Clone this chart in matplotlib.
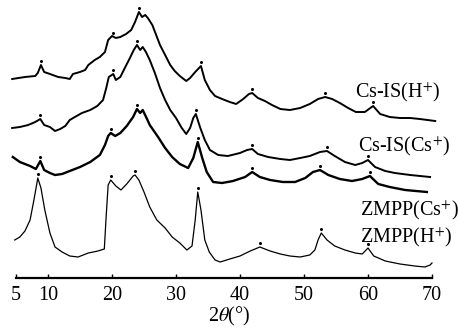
import numpy as np
import matplotlib.pyplot as plt

plt.rcParams['font.family'] = ['Liberation Serif', 'DejaVu Serif']
plt.rcParams['mathtext.fontset'] = 'stix'

# XRD patterns, 2theta (deg) vs. stacked intensity (a.u.)
csis_h_2t = [4.4, 6.4, 8.0, 8.4, 8.9, 9.4, 10.3, 11.6, 12.7, 13.4, 13.9, 15.0, 15.8, 16.3,
             17.3, 18.1, 18.9, 19.4, 20.0, 20.6, 21.3, 22.2, 23.0, 23.6, 24.2, 24.7, 25.2,
             25.6, 26.3, 26.9, 27.5, 28.3, 29.1, 29.8, 30.6, 31.6, 32.2, 33.0, 33.9, 34.5,
             35.3, 36.1, 37.2, 38.4, 39.4, 40.5, 41.4, 41.9, 42.8, 43.9, 45.0, 46.3, 47.8,
             49.4, 50.9, 52.2, 53.3, 54.4, 55.6, 56.9, 58.1, 59.5, 60.8, 61.9, 63.4, 65.0,
             66.6, 68.1, 70.5]
csis_h_int = [199, 201, 202, 205, 213, 206, 204, 201, 200, 199, 204, 206, 208, 213,
              218, 221, 226, 238, 242, 240, 241, 244, 248, 256, 266, 261, 263,
              260, 253, 243, 233, 223, 213, 207, 202, 197, 200, 206, 212, 198,
              188, 182, 179, 176, 174, 179, 184, 185, 180, 177, 173, 169, 168,
              170, 174, 179, 181, 179, 175, 170, 166, 166, 172, 164, 161, 160,
              160, 159, 157]
csis_h_peaks = [8.9, 20.2, 24.2, 33.9, 41.9, 53.3, 60.8]

csis_cs_2t = [4.4, 5.6, 6.9, 8.0, 8.8, 9.4, 10.3, 11.1, 11.9, 12.7, 13.4, 14.2, 15.3, 16.6,
              17.7, 18.6, 19.1, 19.5, 20.2, 20.6, 21.3, 22.0, 22.8, 23.4, 23.9, 24.4, 24.8,
              25.3, 25.9, 26.7, 27.5, 28.3, 29.1, 30.0, 30.9, 31.6, 32.2, 32.7, 33.1, 33.8,
              34.5, 35.3, 36.6, 38.1, 40.0, 41.1, 41.9, 42.8, 44.4, 46.3, 47.8, 49.4, 50.9,
              52.5, 53.6, 54.8, 56.4, 58.0, 59.1, 60.0, 61.1, 62.7, 64.2, 66.6, 69.7]
csis_cs_int = [150, 151, 153, 156, 159, 153, 151, 147, 149, 152, 158, 161, 165, 168,
               172, 178, 190, 201, 204, 198, 201, 210, 220, 228, 233, 228, 231,
               226, 218, 205, 190, 178, 168, 160, 150, 144, 150, 160, 164, 150,
               138, 128, 123, 122, 125, 128, 129, 124, 121, 119, 118, 120, 122,
               126, 127, 122, 116, 113, 115, 118, 111, 107, 105, 103, 101]
csis_cs_peaks = [8.8, 20.2, 23.9, 33.1, 41.9, 53.6, 60.0]

zmpp_cs_2t = [4.5, 5.6, 7.2, 8.1, 8.8, 9.4, 10.3, 11.1, 12.2, 13.4, 15.0, 16.6, 18.1, 18.9,
              19.4, 19.8, 20.5, 21.3, 22.3, 23.3, 23.9, 24.4, 24.8, 25.4, 25.9, 27.2, 28.3,
              29.4, 30.6, 31.9, 32.7, 33.4, 34.1, 34.8, 35.8, 37.2, 38.9, 40.8, 41.9, 43.1,
              44.7, 46.7, 48.6, 50.2, 51.4, 52.5, 53.8, 55.6, 57.5, 59.1, 60.3, 61.6, 63.4,
              65.8, 69.2]
zmpp_cs_int = [121, 116, 112, 109, 117, 108, 105, 103, 104, 107, 111, 116, 123, 133,
               142, 145, 142, 145, 152, 161, 169, 165, 168, 160, 153, 141, 130,
               121, 114, 110, 120, 136, 120, 106, 96, 95, 97, 101, 106, 101,
               98, 96, 96, 100, 106, 108, 103, 99, 97, 99, 102, 94, 91,
               88, 86]
zmpp_cs_peaks = [8.8, 19.8, 23.9, 33.4, 41.9, 52.5, 60.3]

zmpp_h_2t = [4.8, 5.6, 6.4, 7.2, 7.8, 8.3, 8.4, 8.9, 9.5, 10.3, 11.1, 12.2, 13.4, 14.7,
             16.3, 17.8, 18.8, 19.1, 19.4, 19.8, 20.6, 21.4, 22.3, 23.3, 23.6, 24.2, 25.0,
             25.9, 27.0, 28.3, 29.4, 30.6, 31.7, 32.5, 33.0, 33.4, 33.9, 34.5, 35.2, 36.1,
             36.9, 38.4, 40.0, 41.6, 43.1, 44.7, 46.3, 47.8, 49.4, 50.9, 51.7, 52.2, 52.7,
             53.6, 54.8, 56.4, 58.0, 59.1, 60.0, 60.9, 62.7, 65.0, 67.3, 68.9, 69.7, 70.0]
zmpp_h_int = [38, 41, 47, 58, 78, 96, 100, 90, 68, 45, 31, 26, 22, 21,
              25, 27, 29, 63, 93, 98, 92, 88, 94, 102, 103, 98, 86,
              71, 58, 50, 41, 35, 28, 32, 58, 86, 68, 38, 26, 18,
              16, 19, 22, 27, 31, 27, 24, 22, 21, 23, 28, 38, 45,
              38, 32, 28, 25, 24, 30, 22, 17, 14, 12, 11, 13, 15]
zmpp_h_peaks = [8.4, 19.8, 23.6, 33.4, 43.1, 52.7, 60.0]

labels = ['Cs-IS(H$^{+}$)', 'Cs-IS(Cs$^{+}$)', 'ZMPP(Cs$^{+}$)', 'ZMPP(H$^{+}$)']
label_pos = [(58.0, 186), (58.4, 132), (58.75, 68), (58.75, 41)]
xticks = [5, 10, 20, 30, 40, 50, 60, 70]

fig = plt.figure(figsize=(4.58, 3.29), dpi=100)
ax = fig.add_axes([0, 0.155, 1, 0.845])

traces = [
    (csis_h_2t, csis_h_int, csis_h_peaks, 1.4),
    (csis_cs_2t, csis_cs_int, csis_cs_peaks, 1.4),
    (zmpp_cs_2t, zmpp_cs_int, zmpp_cs_peaks, 1.7),
    (zmpp_h_2t, zmpp_h_int, zmpp_h_peaks, 0.9),
]
for tt, ii, pk, lw in traces:
    ax.plot(tt, ii, color='black', lw=lw)
    pk_y = np.interp(pk, tt, ii) + 4
    ax.plot(pk, pk_y, 'o', color='black', ms=2.2, mew=0)

for lab, (x, y) in zip(labels, label_pos):
    ax.text(x, y, lab, fontsize=14.5, ha='left', va='center')

ax.set_xlim(5 - 16 / 6.4, 5 + 442 / 6.4)
ax.set_ylim(0, 278)
for s in ['left', 'right', 'top']:
    ax.spines[s].set_visible(False)
ax.spines['bottom'].set_bounds(5, 70)
ax.spines['bottom'].set_linewidth(1.6)
ax.set_yticks([])
ax.set_xticks(xticks)
ax.set_xticklabels([str(t) for t in xticks])
ax.tick_params(axis='x', direction='in', length=3, width=1, pad=6, labelsize=14.5)
ax.set_xlabel('2$\\theta$(°)', fontsize=14.5, labelpad=0)

fig.savefig('out.png', dpi=100)
